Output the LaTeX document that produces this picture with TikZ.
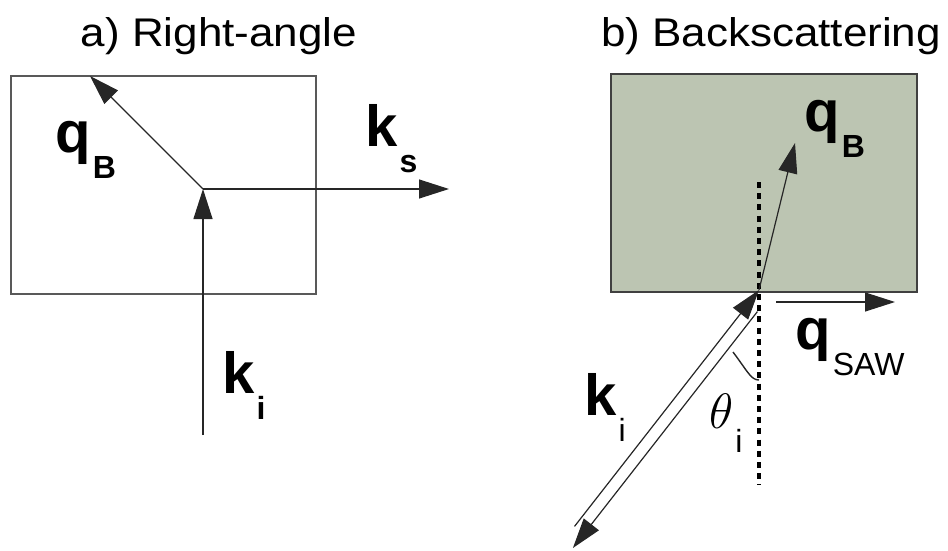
\documentclass[tikz,border=0pt]{standalone}
\usepackage{fontspec}
\setmainfont{Liberation Sans}
\newfontfamily\titlefont{Liberation Sans}[FakeStretch=1.1]
\usetikzlibrary{arrows.meta}
\definecolor{sample}{RGB}{188,197,178}
\newcommand{\vlabel}[2]{{\fontsize{29}{30}\selectfont\bfseries #1}\kern1pt\raisebox{-13pt}{\fontsize{16}{18}\selectfont #2}}

\begin{document}
\begin{tikzpicture}[x=0.5pt,y=-0.5pt,
  vec/.style={draw=black!85,line width=0.6pt,-{Triangle[length=15pt,width=9.5pt]}},
  box/.style={draw=black!65,line width=0.6pt},
  lbl/.style={inner sep=0pt,anchor=base west}]
  \useasboundingbox (0,0) rectangle (948,551);

  % Titles
  \node[anchor=base] (titleA) at (219,47) {\titlefont\fontsize{20}{22}\selectfont a) Right-angle};
  \node[anchor=base] (titleB) at (771,47) {\titlefont\fontsize{20}{22}\selectfont b) Backscattering};

  % a) right angle
  \draw[box] (11,76) rectangle (316,294);
  \coordinate (centreA) at (203,189);
  \coordinate (inA) at (203,435);
  \coordinate (qbA) at (90,76);
  \coordinate (ksA) at (449,189);
  \draw[vec] (inA) -- (centreA);
  \draw[vec] (centreA) -- (qbA);
  \draw[vec] (centreA) -- (ksA);
  \node[lbl] (labQbA) at (55,153) {\vlabel{q}{\bfseries B}};
  \node[lbl] (labKsA) at (365,147) {\vlabel{k}{\bfseries s}};
  \node[lbl] (labKiA) at (222,393) {\vlabel{k}{\bfseries i}};

  % b) backscattering
  \draw[box,draw=black!75,fill=sample] (611,74) rectangle (917,292);
  \coordinate (hitB) at (759,290);
  \coordinate (normTop) at (759,182);
  \coordinate (normBot) at (759,485);
  \draw[line width=2pt,dash pattern=on 3pt off 2.6pt] (normTop) -- (normBot);
  \coordinate (qbB) at (795,143);
  \draw[vec] (hitB) -- (qbB);
  \coordinate (sawS) at (776,302);
  \coordinate (sawE) at (895,302);
  \draw[vec] (sawS) -- (sawE);
  \coordinate (inB) at (574.5,526.4);
  \draw[vec] (inB) -- (hitB);
  \coordinate (outS) at (757.4,311.6);
  \coordinate (outE) at (572.9,548);
  \draw[vec] (outS) -- (outE);
  \coordinate (arcS) at (733,352);
  \coordinate (arcE) at (759,380);
  \draw[black!85,line width=0.7pt] (arcS) .. controls (748,372) and (751,380) .. (arcE);
  \node[lbl] (labQbB) at (804,132) {\vlabel{q}{\bfseries B}};
  \node[lbl] (labSaw) at (795,349) {\vlabel{q}{SAW}};
  \node[lbl] (labKiB) at (584,415) {\vlabel{k}{i}};
  \node[lbl] (labTh) at (709,428) {\fontsize{23}{24}\selectfont$\theta$\kern1pt\raisebox{-12pt}{\fontsize{16}{18}\selectfont i}};
\end{tikzpicture}
\end{document}
